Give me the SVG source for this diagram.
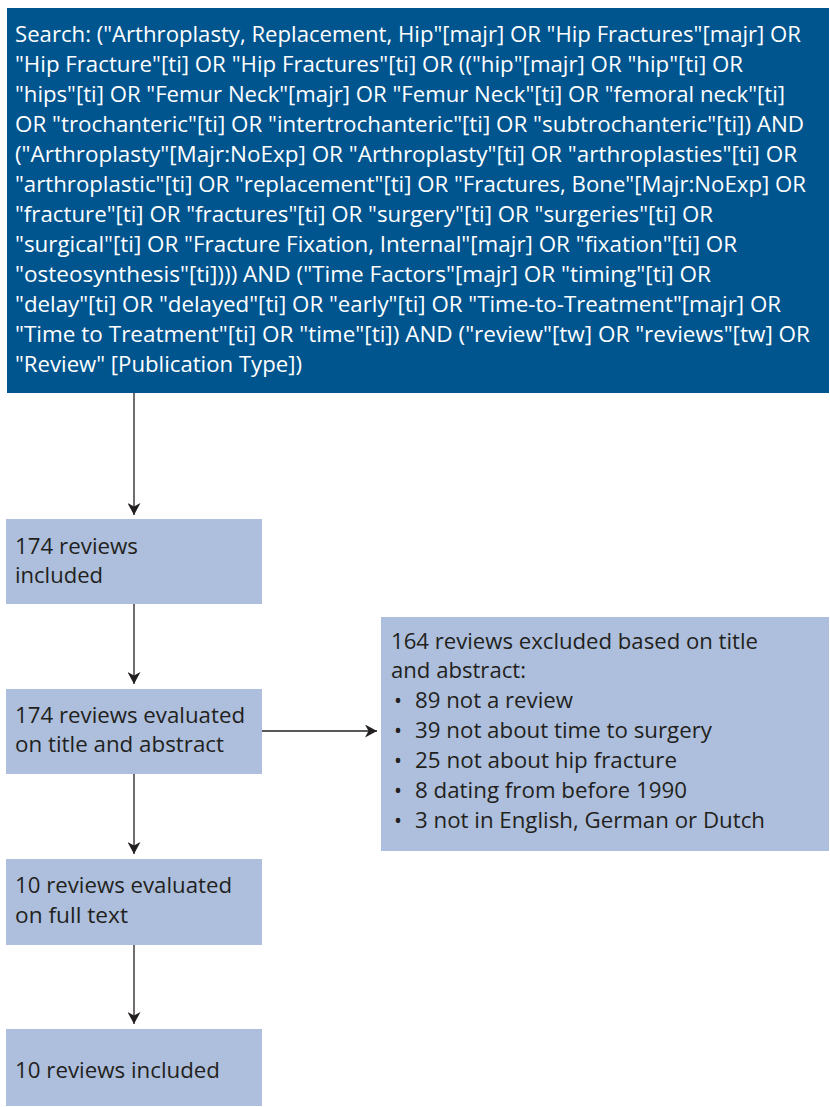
<svg xmlns="http://www.w3.org/2000/svg" width="830" height="1107" viewBox="0 0 830 1107">
<defs>
<style>
.dark{fill:#00558f;}
.light{fill:#adbfdc;}
.wt{fill:#ffffff;font-family:"Open Sans","Noto Sans","Liberation Sans",sans-serif;font-size:21.3px;}
.bt{fill:#231f20;font-family:"Open Sans","Noto Sans","Liberation Sans",sans-serif;font-size:21.3px;}
.conn{stroke:#231f20;stroke-width:1.3;fill:none;}
</style>
<marker id="ah" viewBox="0 0 12 13" refX="12" refY="6.5" markerWidth="12" markerHeight="13" markerUnits="userSpaceOnUse" orient="auto">
<path d="M0,0 L12,6.5 L0,13 L3.5,6.5 Z" fill="#231f20"/>
</marker>
</defs>
<rect width="830" height="1107" fill="#ffffff"/>

<g id="search">
<rect class="dark" x="7" y="8" width="822" height="385"/>
<text class="wt" x="15" y="42" textLength="786" lengthAdjust="spacingAndGlyphs">Search: ("Arthroplasty, Replacement, Hip"[majr] OR "Hip Fractures"[majr] OR</text>
<text class="wt" x="15" y="72" textLength="728" lengthAdjust="spacingAndGlyphs">"Hip Fracture"[ti] OR "Hip Fractures"[ti] OR (("hip"[majr] OR "hip"[ti] OR</text>
<text class="wt" x="15" y="102" textLength="770" lengthAdjust="spacingAndGlyphs">"hips"[ti] OR "Femur Neck"[majr] OR "Femur Neck"[ti] OR "femoral neck"[ti]</text>
<text class="wt" x="15" y="132" textLength="789" lengthAdjust="spacingAndGlyphs">OR "trochanteric"[ti] OR "intertrochanteric"[ti] OR "subtrochanteric"[ti]) AND</text>
<text class="wt" x="15" y="162" textLength="782" lengthAdjust="spacingAndGlyphs">("Arthroplasty"[Majr:NoExp] OR "Arthroplasty"[ti] OR "arthroplasties"[ti] OR</text>
<text class="wt" x="15" y="192" textLength="791" lengthAdjust="spacingAndGlyphs">"arthroplastic"[ti] OR "replacement"[ti] OR "Fractures, Bone"[Majr:NoExp] OR</text>
<text class="wt" x="15" y="222" textLength="698" lengthAdjust="spacingAndGlyphs">"fracture"[ti] OR "fractures"[ti] OR "surgery"[ti] OR "surgeries"[ti] OR</text>
<text class="wt" x="15" y="252" textLength="722" lengthAdjust="spacingAndGlyphs">"surgical"[ti] OR "Fracture Fixation, Internal"[majr] OR "fixation"[ti] OR</text>
<text class="wt" x="15" y="282" textLength="696" lengthAdjust="spacingAndGlyphs">"osteosynthesis"[ti]))) AND ("Time Factors"[majr] OR "timing"[ti] OR</text>
<text class="wt" x="15" y="312" textLength="766" lengthAdjust="spacingAndGlyphs">"delay"[ti] OR "delayed"[ti] OR "early"[ti] OR "Time-to-Treatment"[majr] OR</text>
<text class="wt" x="15" y="342" textLength="795" lengthAdjust="spacingAndGlyphs">"Time to Treatment"[ti] OR "time"[ti]) AND ("review"[tw] OR "reviews"[tw] OR</text>
<text class="wt" x="15" y="372" textLength="287" lengthAdjust="spacingAndGlyphs">"Review" [Publication Type])</text>
</g>

<g id="included174">
<rect class="light" x="6" y="519" width="256" height="85"/>
<text class="bt" x="15" y="554" textLength="123" lengthAdjust="spacingAndGlyphs">174 reviews</text>
<text class="bt" x="15" y="583" textLength="88" lengthAdjust="spacingAndGlyphs">included</text>
</g>

<g id="evaluated174">
<rect class="light" x="6" y="689" width="256" height="85"/>
<text class="bt" x="15" y="723" textLength="230" lengthAdjust="spacingAndGlyphs">174 reviews evaluated</text>
<text class="bt" x="15" y="752" textLength="209" lengthAdjust="spacingAndGlyphs">on title and abstract</text>
</g>

<g id="excluded">
<rect class="light" x="381" y="617" width="448" height="234"/>
<text class="bt" x="391" y="649" textLength="367" lengthAdjust="spacingAndGlyphs">164 reviews excluded based on title</text>
<text class="bt" x="391" y="678" textLength="135" lengthAdjust="spacingAndGlyphs">and abstract:</text>
<text class="bt" x="394" y="708">•</text>
<text class="bt" x="415" y="708" textLength="158" lengthAdjust="spacingAndGlyphs">89 not a review</text>
<text class="bt" x="394" y="738">•</text>
<text class="bt" x="415" y="738" textLength="297" lengthAdjust="spacingAndGlyphs">39 not about time to surgery</text>
<text class="bt" x="394" y="768">•</text>
<text class="bt" x="415" y="768" textLength="262" lengthAdjust="spacingAndGlyphs">25 not about hip fracture</text>
<text class="bt" x="394" y="798">•</text>
<text class="bt" x="415" y="798" textLength="272" lengthAdjust="spacingAndGlyphs">8 dating from before 1990</text>
<text class="bt" x="394" y="828">•</text>
<text class="bt" x="415" y="828" textLength="350" lengthAdjust="spacingAndGlyphs">3 not in English, German or Dutch</text>
</g>

<g id="evaluated10">
<rect class="light" x="6" y="859" width="256" height="86"/>
<text class="bt" x="15" y="893" textLength="217" lengthAdjust="spacingAndGlyphs">10 reviews evaluated</text>
<text class="bt" x="15" y="923" textLength="113" lengthAdjust="spacingAndGlyphs">on full text</text>
</g>

<g id="included10">
<rect class="light" x="6" y="1029" width="256" height="77"/>
<text class="bt" x="15" y="1078" textLength="205" lengthAdjust="spacingAndGlyphs">10 reviews included</text>
</g>

<g id="connectors">
<line class="conn" x1="134" y1="393" x2="134" y2="515" marker-end="url(#ah)"/>
<line class="conn" x1="134" y1="604" x2="134" y2="684" marker-end="url(#ah)"/>
<line class="conn" x1="134" y1="774" x2="134" y2="854" marker-end="url(#ah)"/>
<line class="conn" x1="134" y1="945" x2="134" y2="1024" marker-end="url(#ah)"/>
<line class="conn" x1="262" y1="731" x2="377" y2="731" marker-end="url(#ah)"/>
</g>
</svg>
